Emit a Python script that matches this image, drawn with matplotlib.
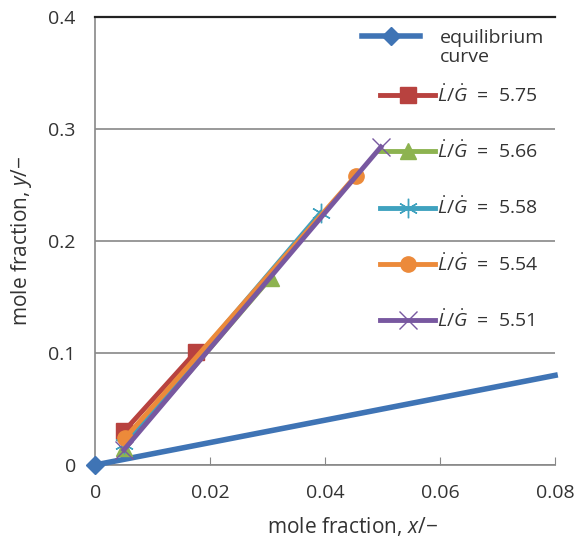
import matplotlib
matplotlib.use("Agg")
import matplotlib.pyplot as plt

plt.rcParams['font.family'] = ['Open Sans', 'DejaVu Sans']
plt.rcParams['mathtext.fontset'] = 'custom'
plt.rcParams['mathtext.rm'] = 'Open Sans'
plt.rcParams['mathtext.it'] = 'Open Sans:italic'

# Data
eq_x = [0.0, 0.08]
eq_y = [0.0, 0.08]

x_575 = [0.005, 0.0175]
y_575 = [0.030, 0.101]
x_566 = [0.005, 0.0305]
y_566 = [0.015, 0.167]
x_558 = [0.005, 0.0392]
y_558 = [0.019, 0.225]
x_554 = [0.0052, 0.0453]
y_554 = [0.024, 0.258]
x_551 = [0.005, 0.0497]
y_551 = [0.0135, 0.284]

eq_label = ["equilibrium", "curve"]
labels = [r"$\dot{L}/\dot{G}$  =  5.75",
          r"$\dot{L}/\dot{G}$  =  5.66",
          r"$\dot{L}/\dot{G}$  =  5.58",
          r"$\dot{L}/\dot{G}$  =  5.54",
          r"$\dot{L}/\dot{G}$  =  5.51"]

xticks = [0, 0.02, 0.04, 0.06, 0.08]
xticklabels = ["0", "0.02", "0.04", "0.06", "0.08"]
yticks = [0, 0.1, 0.2, 0.3, 0.4]
yticklabels = ["0", "0.1", "0.2", "0.3", "0.4"]

fig = plt.figure(figsize=(5.77, 5.40), dpi=100)
ax = fig.add_axes([0.165, 0.139, 0.797, 0.8295])

h_eq, = ax.plot(eq_x, eq_y, color='#3F74B5', lw=4.0, marker='D', ms=9, markevery=[0],
                zorder=3, clip_on=False)
h1, = ax.plot(x_575, y_575, color='#B8423F', lw=3.5, marker='s', ms=12, zorder=4)
h2, = ax.plot(x_566, y_566, color='#8DB350', lw=3.5, marker='^', ms=11, zorder=5)
h3, = ax.plot(x_558, y_558, color='#3FA2BF', lw=3.5, marker=(6, 2, 0), ms=14, mew=1.0, zorder=6)
h4, = ax.plot(x_554, y_554, color='#EC8A3A', lw=3.5, marker='o', ms=11, zorder=7)
h5, = ax.plot(x_551, y_551, color='#7858A0', lw=3.5, marker='x', ms=13, mew=1.0, zorder=8)

ax.set_xlim(0, 0.08)
ax.set_ylim(0, 0.4)
ax.set_xticks(xticks)
ax.set_xticklabels(xticklabels)
ax.set_yticks(yticks)
ax.set_yticklabels(yticklabels)
ax.tick_params(axis='both', labelsize=14, colors='#333333', length=0, pad=14)
ax.tick_params(axis='x', direction='in', length=6, color='#888888', pad=14)
ax.yaxis.grid(True, color='#888888', lw=1.2)
ax.set_axisbelow(True)

ax.spines['right'].set_visible(False)
ax.spines['top'].set_color('#222222')
ax.spines['top'].set_linewidth(1.6)
ax.spines['left'].set_color('#888888')
ax.spines['left'].set_linewidth(1.2)
ax.spines['bottom'].set_color('#888888')
ax.spines['bottom'].set_linewidth(1.2)

ax.set_xlabel(r"mole fraction, $x$/−", fontsize=15, color='#333333', labelpad=9, x=0.56)
ax.set_ylabel(r"mole fraction, $y$/−", fontsize=15, color='#333333', labelpad=10, y=0.5)

leg1 = ax.legend([h_eq], [eq_label[0]], loc='upper left', bbox_to_anchor=(0.580, 0.974),
                 frameon=False, fontsize=14, handlelength=3.0, handletextpad=1.03,
                 borderaxespad=0.0, borderpad=0.0, labelcolor='#333333')
ax.add_artist(leg1)
ax.text(0.75, 0.911, eq_label[1], transform=ax.transAxes, fontsize=14, color='#333333',
        va='center', ha='left')

leg2 = ax.legend([h1, h2, h3, h4, h5], labels, loc='upper left', bbox_to_anchor=(0.62, 0.85),
                 frameon=False, fontsize=14, handlelength=2.83, handletextpad=0.1,
                 labelspacing=1.8, borderaxespad=0.0, borderpad=0.0, labelcolor='#333333')

fig.savefig("out.png", dpi=100)
